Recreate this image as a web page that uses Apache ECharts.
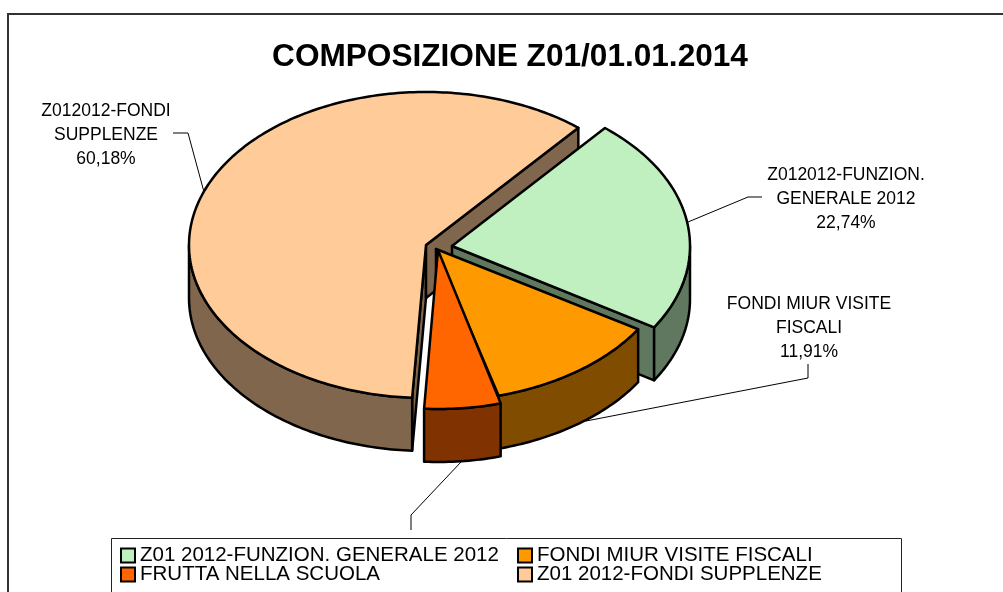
<!DOCTYPE html>
<html>
<head>
<meta charset="utf-8">
<title>COMPOSIZIONE Z01/01.01.2014</title>
<script src="https://cdn.jsdelivr.net/npm/echarts@6/dist/echarts.min.js"></script>
<style>
html, body { margin: 0; padding: 0; background: #fff; }
#main { width: 1003px; height: 592px; }
</style>
</head>
<body>
<div id="main"></div>
<script>
var chartTitle = 'COMPOSIZIONE Z01/01.01.2014';
var sliceNames = ['Z01 2012-FUNZION. GENERALE 2012', 'FONDI MIUR VISITE FISCALI', 'FRUTTA NELLA SCUOLA', 'Z01 2012-FONDI SUPPLENZE'];
var sliceValues = [22.74, 11.91, 5.17, 60.18];
var sliceLabels = ['Z012012-FUNZION.\nGENERALE 2012', 'FONDI MIUR VISITE\nFISCALI', 'FRUTTA NELLA\nSCUOLA', 'Z012012-FONDI\nSUPPLENZE'];
var topColors = ['#c0f0c0', '#ff9900', '#ff6600', '#ffcc99'];
var wallColors = ['#607860', '#804c00', '#803300', '#80664d'];

// pie projection, the picture is a tilted 3d pie so radii differ a bit per slice
var startAngle = 40, depth = 53;
var sliceRx = [238, 238, 238, 237];
var sliceRy = [154, 152, 159, 153];
var sliceCenters = [[452, 246], [436, 249], [438, 250], [426, 245]];
var labelCenters = [[846, 163], [809, 292], [411, 535.5], [106, 99]];
var leaderLines = [
    [[762, 197], [748, 197], [688, 222]],
    [[808, 364], [808, 378], [586, 421]],
    [[411, 530], [411, 515], [461, 462]],
    [[173, 133], [188, 133], [204, 192]]
];

var total = sliceValues.reduce(function (a, b) { return a + b; }, 0);

function percentText(v) {
    return v.toFixed(2).replace('.', ',') + '%';
}

function pt(idx, deg, dy) {
    var a = deg * Math.PI / 180;
    var c = sliceCenters[idx];
    return [c[0] + sliceRx[idx] * Math.sin(a), c[1] - sliceRy[idx] * Math.cos(a) + (dy || 0)];
}

function arcPoints(idx, from, to, dy) {
    var pts = [];
    var n = Math.max(2, Math.ceil(Math.abs(to - from)));
    for (var i = 0; i <= n; i++) {
        pts.push(pt(idx, from + (to - from) * i / n, dy));
    }
    return pts;
}

function poly(points, fill) {
    return {
        type: 'polygon',
        shape: { points: points },
        style: { fill: fill, stroke: '#000', lineWidth: 2.5, lineJoin: 'round' }
    };
}

function renderSlice(idx, api) {
    var value = api.value(0);
    var before = 0;
    for (var i = 0; i < idx; i++) before += sliceValues[i];
    var from = startAngle + before / total * 360;
    var to = from + value / total * 360;
    var c = sliceCenters[idx];
    var wall = wallColors[idx];
    var kids = [];

    // leader line + label sit under the pie and under the legend box
    kids.push({
        type: 'polyline',
        shape: { points: leaderLines[idx] },
        style: { fill: null, stroke: '#000', lineWidth: 1 }
    });
    kids.push({
        type: 'text',
        style: {
            x: labelCenters[idx][0],
            y: labelCenters[idx][1],
            text: sliceLabels[idx] + '\n' + percentText(value),
            fill: '#000',
            font: '17.5px "Liberation Sans", Arial, sans-serif',
            align: 'center',
            verticalAlign: 'top',
            lineHeight: 24
        }
    });

    var cBottom = [c[0], c[1] + depth];
    // cut faces, only the ones turned towards the viewer
    if (Math.sin(from * Math.PI / 180) < 0) {
        kids.push(poly([c, pt(idx, from), pt(idx, from, depth), cBottom], wall));
    }
    if (Math.sin(to * Math.PI / 180) > 0) {
        kids.push(poly([c, pt(idx, to), pt(idx, to, depth), cBottom], wall));
    }
    // outer wall, front half of the ellipse
    var wFrom = Math.max(from, 90), wTo = Math.min(to, 270);
    if (wTo > wFrom) {
        kids.push(poly(arcPoints(idx, wFrom, wTo, 0).concat(arcPoints(idx, wTo, wFrom, depth)), wall));
    }
    // top
    kids.push(poly([c].concat(arcPoints(idx, from, to, 0)), topColors[idx]));

    return { type: 'group', children: kids };
}

var seriesList = sliceNames.map(function (name, idx) {
    return {
        name: name,
        type: 'custom',
        coordinateSystem: 'none',
        silent: true,
        // peach goes first, the front slices paint over it
        z: idx === 3 ? 1 : 2 + idx * 0.1,
        itemStyle: { color: topColors[idx] },
        data: [[sliceValues[idx]]],
        renderItem: function (params, api) { return renderSlice(idx, api); }
    };
});

function legendBlock(left, names) {
    return {
        left: left,
        top: 545,
        orient: 'vertical',
        padding: 0,
        itemGap: -2,
        itemWidth: 14,
        itemHeight: 14,
        icon: 'rect',
        selectedMode: false,
        z: 6,
        itemStyle: { borderColor: '#000', borderWidth: 2 },
        textStyle: { color: '#000', fontSize: 20.5, fontFamily: '"Liberation Sans", Arial, sans-serif' },
        data: names
    };
}

var chart = echarts.init(document.getElementById('main'));
chart.setOption({
    backgroundColor: '#fff',
    animation: false,
    title: {
        text: chartTitle,
        left: 505,
        top: 36,
        textAlign: 'center',
        textStyle: { color: '#000', fontSize: 31.6, fontWeight: 'bold', fontFamily: '"Liberation Sans", Arial, sans-serif' }
    },
    legend: [
        legendBlock(120, [sliceNames[0], sliceNames[2]]),
        legendBlock(517, [sliceNames[1], sliceNames[3]])
    ],
    graphic: [
        {
            type: 'rect',
            z: 0,
            shape: { x: 8, y: 14, width: 1020, height: 600 },
            style: { fill: null, stroke: '#333', lineWidth: 2 }
        },
        {
            // legend box covers the last label, same as the original
            type: 'rect',
            z: 5,
            shape: { x: 111.5, y: 538.5, width: 790, height: 80 },
            style: { fill: '#fff', stroke: '#222', lineWidth: 1 }
        }
    ],
    series: seriesList
});
</script>
</body>
</html>
